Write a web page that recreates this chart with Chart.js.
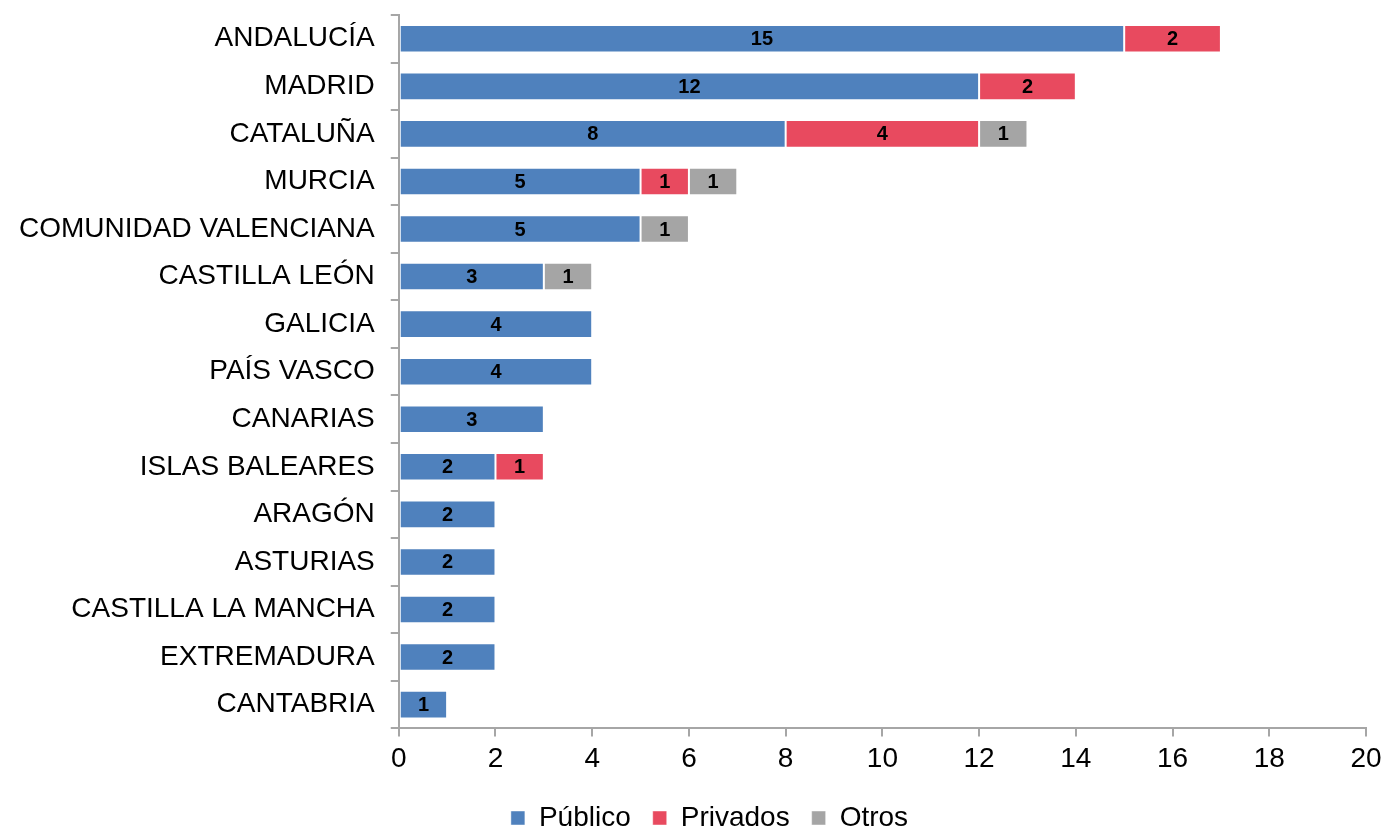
<!DOCTYPE html>
<html>
<head>
<meta charset="utf-8">
<script src="https://cdn.jsdelivr.net/npm/chart.js@4/dist/chart.umd.min.js"></script>
<style>
  html, body { margin: 0; padding: 0; background: #fff; overflow: hidden; }
  #frame { width: 1384px; height: 826px; overflow: hidden; position: relative; }
  #wrap { width: 1384px; height: 842px; position: absolute; top: 0; left: 0; }
</style>
</head>
<body>
<div id="frame"><div id="wrap"><canvas id="chart"></canvas></div></div>
<script>
const regions = [
  'ANDALUCÍA', 'MADRID', 'CATALUÑA', 'MURCIA', 'COMUNIDAD VALENCIANA',
  'CASTILLA LEÓN', 'GALICIA', 'PAÍS VASCO', 'CANARIAS', 'ISLAS BALEARES',
  'ARAGÓN', 'ASTURIAS', 'CASTILLA LA MANCHA', 'EXTREMADURA', 'CANTABRIA',
];
const publico = [15, 12, 8, 5, 5, 3, 4, 4, 3, 2, 2, 2, 2, 2, 1];
const privados = [2, 2, 4, 1, null, null, null, null, null, 1, null, null, null, null, null];
const otros = [null, null, 1, 1, 1, 1, null, null, null, null, null, null, null, null, null];
const xTicks = [0, 2, 4, 6, 8, 10, 12, 14, 16, 18, 20];

const fontFamily = '"Liberation Sans", Arial, sans-serif';

// draws the value in the middle of each bar segment
const barLabels = {
  id: 'barLabels',
  afterDatasetsDraw(chart) {
    const ctx = chart.ctx;
    ctx.save();
    ctx.font = `bold 20px ${fontFamily}`;
    ctx.fillStyle = '#000';
    ctx.textAlign = 'center';
    ctx.textBaseline = 'middle';
    chart.data.datasets.forEach((ds, i) => {
      const meta = chart.getDatasetMeta(i);
      meta.data.forEach((bar, j) => {
        const v = ds.data[j];
        if (!v) return;
        const { x, y, base } = bar.getProps(['x', 'y', 'base'], true);
        ctx.fillText(String(v), (x + base) / 2, y + 1);
      });
    });
    ctx.restore();
  },
};

// nudges the legend a bit to the right, like the original
const legendShift = {
  id: 'legendShift',
  afterLayout(chart) {
    if (!chart.legend) return;
    chart.legend.left += 25;
    chart.legend.right += 25;
  },
};

function makeSet(label, data, color) {
  return {
    label,
    data,
    backgroundColor: color,
    borderColor: 'rgba(255,255,255,0.45)',
    borderWidth: 1,
    borderSkipped: false,
    barPercentage: 0.58,
    categoryPercentage: 1,
  };
}

new Chart(document.getElementById('chart'), {
  type: 'bar',
  data: {
    labels: regions,
    datasets: [
      makeSet('Público', publico, '#4F81BD'),
      makeSet('Privados', privados, '#E84A5F'),
      makeSet('Otros', otros, '#A5A5A5'),
    ],
  },
  options: {
    indexAxis: 'y',
    responsive: true,
    maintainAspectRatio: false,
    animation: false,
    layout: { padding: { left: 3, right: 18, top: 15, bottom: 0 } },
    scales: {
      x: {
        stacked: true,
        min: 0,
        max: 20,
        afterBuildTicks: (axis) => { axis.ticks = xTicks.map((v) => ({ value: v })); },
        afterFit: (axis) => { axis.paddingLeft = 0; axis.paddingRight = 0; },
        grid: { drawOnChartArea: false, color: '#A6A6A6', tickLength: 8, lineWidth: 2 },
        border: { color: '#A6A6A6', width: 2 },
        ticks: { color: '#000', font: { family: fontFamily, size: 28 }, padding: 6 },
      },
      y: {
        stacked: true,
        offset: true,
        afterFit: (axis) => { axis.paddingTop = 0; axis.paddingBottom = 0; },
        grid: { drawOnChartArea: false, offset: true, color: '#A6A6A6', tickLength: 8, lineWidth: 2 },
        border: { color: '#A6A6A6', width: 2 },
        ticks: { color: '#000', font: { family: fontFamily, size: 28 }, padding: 16 },
      },
    },
    plugins: {
      legend: {
        position: 'bottom',
        labels: {
          color: '#000',
          font: { family: fontFamily, size: 28 },
          boxWidth: 14,
          boxHeight: 14,
          padding: 22,
        },
      },
      tooltip: { enabled: false },
    },
  },
  plugins: [barLabels, legendShift],
});
</script>
</body>
</html>
